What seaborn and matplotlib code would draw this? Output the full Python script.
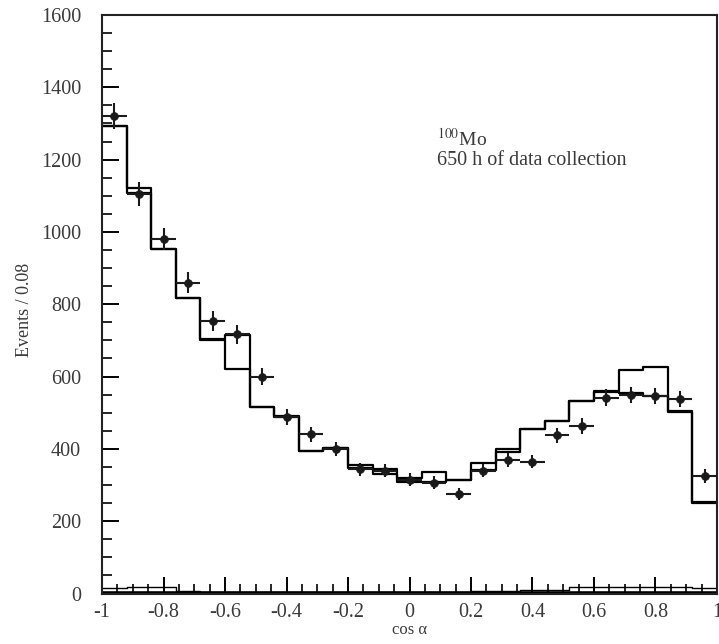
import numpy as np
import pandas as pd
import matplotlib
matplotlib.use("Agg")
import matplotlib.pyplot as plt
from matplotlib.ticker import MultipleLocator
import seaborn as sns

# ---- data ----
bin_edges = [-1.0, -0.92, -0.84, -0.76, -0.68, -0.60, -0.52, -0.44, -0.36, -0.28,
             -0.20, -0.12, -0.04, 0.04, 0.12, 0.20, 0.28, 0.36, 0.44, 0.52,
             0.60, 0.68, 0.76, 0.84, 0.92, 1.00]
bin_centers = [-0.96, -0.88, -0.80, -0.72, -0.64, -0.56, -0.48, -0.40, -0.32, -0.24,
               -0.16, -0.08, 0.00, 0.08, 0.16, 0.24, 0.32, 0.40, 0.48, 0.56,
               0.64, 0.72, 0.80, 0.88, 0.96]
data_counts = [1320, 1104, 980, 860, 753, 717, 600, 489, 440, 399,
               343, 339, 314, 307, 275, 340, 369, 365, 438, 463,
               542, 549, 546, 538, 325]
data_err = [36, 33, 31, 29, 27, 27, 24, 22, 21, 20,
            19, 18, 18, 18, 17, 18, 19, 19, 21, 22,
            23, 23, 23, 23, 18]
model_a = [1294, 1107, 952, 818, 701, 620, 515, 489, 394, 402,
           346, 330, 309, 309, 314, 342, 392, 455, 477, 532,
           556, 554, 546, 503, 250]
model_b = [1294, 1122, 952, 818, 705, 715, 515, 492, 394, 402,
           355, 343, 319, 337, 314, 362, 400, 455, 477, 532,
           560, 618, 626, 506, 252]
background = [15, 18, 18, 6, 4, 3, 3, 3, 3, 3,
              3, 3, 4, 4, 5, 6, 7, 9, 9, 18,
              19, 19, 19, 19, 14]
background2 = [2, 2, 2, 2, 2, 1, 1, 1, 1, 1,
               1, 1, 1, 1, 1, 1, 1, 1, 1, 1,
               1, 1, 1, 1, 1]
x_ticks = [-1, -0.8, -0.6, -0.4, -0.2, 0, 0.2, 0.4, 0.6, 0.8, 1]
x_tick_labels = ["-1", "-0.8", "-0.6", "-0.4", "-0.2", "0", "0.2", "0.4", "0.6", "0.8", "1"]
y_ticks = [0, 200, 400, 600, 800, 1000, 1200, 1400, 1600]

# ---- style ----
sns.set_style("ticks")
plt.rcParams["font.family"] = ["Liberation Serif", "DejaVu Serif"]
plt.rcParams["mathtext.fontset"] = "stix"
text_color = "#3a3a3a"

fig = plt.figure(figsize=(7.19, 6.44), dpi=100)
ax = fig.add_axes([0.1419, 0.0784, 0.8553, 0.8983])

df = pd.DataFrame({"x": bin_centers, "a": model_a, "b": model_b,
                   "bg": background, "bg2": background2})

for col, lw in [("a", 1.6), ("b", 1.6), ("bg", 1.0), ("bg2", 2.6)]:
    sns.histplot(data=df, x="x", weights=col, bins=bin_edges, element="step",
                 fill=False, color="black", linewidth=lw, ax=ax)

ax.errorbar(bin_centers, data_counts, yerr=data_err, xerr=0.04, fmt="none",
            ecolor="#1a1a1a", elinewidth=1.5, capsize=0, zorder=4)
sns.scatterplot(x=bin_centers, y=data_counts, ax=ax, color="#1a1a1a", s=32,
                edgecolor="#1a1a1a", linewidth=0.5, zorder=5)

ax.set_xlim(-1, 1)
ax.set_ylim(0, 1600)
ax.set_xticks(x_ticks)
ax.set_xticklabels(x_tick_labels)
ax.set_yticks(y_ticks)
ax.xaxis.set_minor_locator(MultipleLocator(0.05))
ax.yaxis.set_minor_locator(MultipleLocator(50))
ax.tick_params(which="major", direction="in", length=12, width=1.4,
               labelsize=14.5, colors="black", labelcolor=text_color)
ax.tick_params(axis="y", which="major", pad=15)
ax.tick_params(axis="x", which="major", pad=7)
ax.tick_params(which="minor", direction="in", length=7, width=1.2, colors="black")
ax.tick_params(top=False, right=False, which="both")
for side in ["left", "bottom", "top", "right"]:
    ax.spines[side].set_visible(True)
    ax.spines[side].set_linewidth(1.5)
    ax.spines[side].set_color("#222222")

ax.set_xlabel("cos α", fontsize=12, color=text_color, labelpad=0)
ax.set_ylabel("Events / 0.08", fontsize=13, color=text_color)
ax.yaxis.set_label_coords(-0.113, 0.49)

ax.text(0.545, 0.787, r"$^{100}$Mo", transform=ax.transAxes, fontsize=14,
        color=text_color, ha="left", va="center")
ax.text(0.545, 0.749, "650 h of data collection", transform=ax.transAxes,
        fontsize=14.5, color=text_color, ha="left", va="center")

fig.savefig("out.png", dpi=100)
